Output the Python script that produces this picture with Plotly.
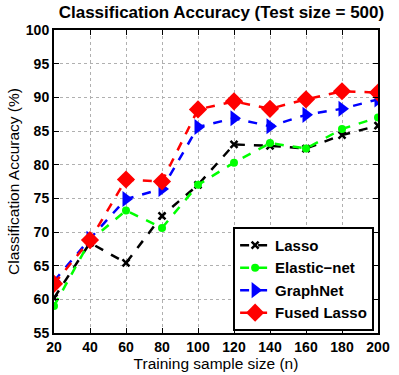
import plotly.graph_objects as go

x = [20, 40, 60, 80, 100, 120, 140, 160, 180, 200]
lasso = [60.2, 68.4, 65.4, 72.4, 77.0, 83.0, 82.8, 82.4, 84.4, 85.8]
elastic = [59.0, 68.7, 73.2, 70.6, 77.0, 80.3, 83.2, 82.4, 85.3, 87.0]
graphnet = [62.7, 69.0, 74.9, 76.4, 85.6, 86.9, 85.7, 87.4, 88.3, 89.7]
fused = [62.3, 68.8, 77.8, 77.5, 88.2, 89.4, 88.3, 89.7, 90.9, 90.7]
xticks = [20, 40, 60, 80, 100, 120, 140, 160, 180, 200]
yticks = [55, 60, 65, 70, 75, 80, 85, 90, 95, 100]

FONT = "Liberation Sans"

fig = go.Figure()
series = [
    ("Lasso", lasso, "black", "x-thin", 7),
    ("Elastic\u2212net", elastic, "#00ff00", "circle", 8),
    ("GraphNet", graphnet, "blue", "triangle-right", 14),
    ("Fused Lasso", fused, "red", "diamond", 14),
]
for name, y, c, sym, sz in series:
    fig.add_trace(go.Scatter(
        x=x, y=y, name=name, mode="lines+markers",
        line=dict(color=c, width=2.5, dash="dash"),
        marker=dict(symbol=sym, size=sz, color=c,
                    line=dict(color=c, width=2.5 if sym == "x-thin" else 0)),
    ))

axis_common = dict(
    showline=True, linecolor="black", linewidth=2, mirror="ticks",
    ticks="inside", ticklen=5, tickcolor="black", tickwidth=1,
    showgrid=True, gridcolor="#b0b0b0", griddash="dot", gridwidth=1,
    zeroline=False, ticklabeloverflow="allow",
    tickfont=dict(family=FONT, size=14, color="black", weight="bold"),
)

fig.update_layout(
    width=399, height=375,
    margin=dict(l=54, r=9, t=30, b=39),
    paper_bgcolor="white", plot_bgcolor="white",
    title=dict(text="Classification Accuracy (Test size = 500)",
               font=dict(family=FONT, size=17, color="black", weight="bold"),
               x=0.555, xanchor="center", y=0.968, yanchor="middle"),
    xaxis=dict(range=[20, 200], tickvals=xticks,
               title=dict(text="Training sample size (n)", standoff=0,
                          font=dict(family=FONT, size=15.5, color="black")),
               **axis_common),
    yaxis=dict(range=[55, 100], tickvals=yticks,
               title=dict(text="Classification Accuracy (%)", standoff=2,
                          font=dict(family=FONT, size=15.5, color="black")),
               **axis_common),
    legend=dict(x=0.988, y=0.007, xanchor="right", yanchor="bottom",
                bgcolor="white", bordercolor="black", borderwidth=2,
                font=dict(family=FONT, size=15, color="black", weight="bold"),
                itemwidth=30, tracegroupgap=0),
    showlegend=True,
)

fig.write_html("out.html")
